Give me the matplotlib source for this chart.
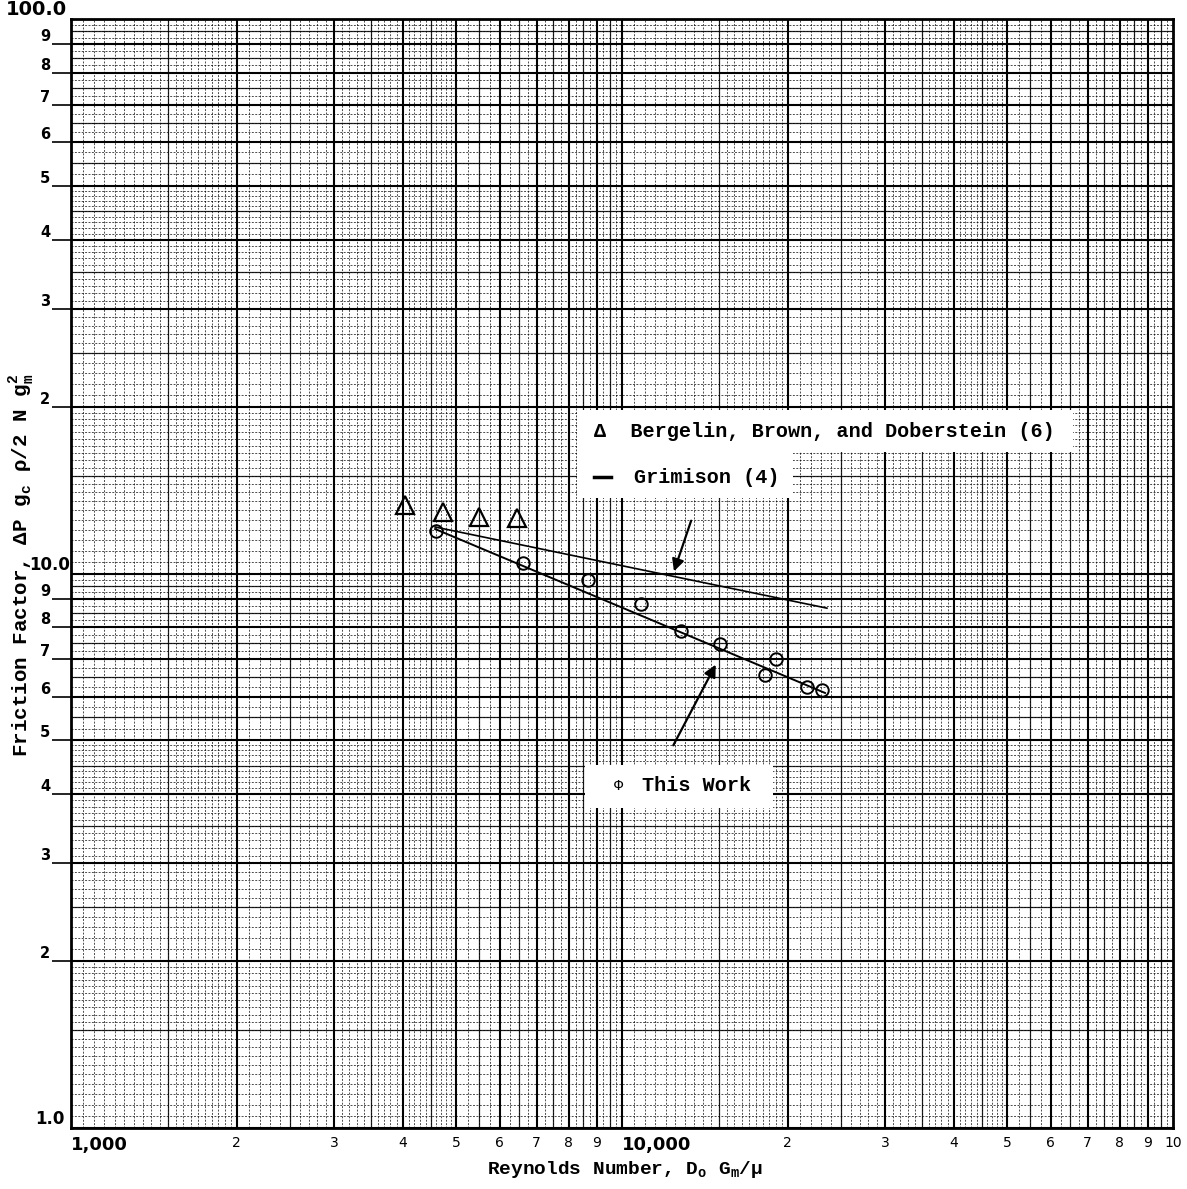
import numpy as np
import matplotlib
matplotlib.use('Agg')
import matplotlib.pyplot as plt
from matplotlib.patches import Rectangle

plt.rcParams['font.family'] = ['Liberation Mono', 'DejaVu Sans']

# Bergelin, Brown and Doberstein (6) - triangulos
re_bbd = [4040, 4730, 5500, 6450]
f_bbd = [13.3, 12.9, 12.65, 12.6]

# Este trabalho - circulos
re_tw = [4600, 6610, 8680, 10830, 12800, 15060, 19030, 18180, 21670, 23070]
f_tw = [11.93, 10.44, 9.73, 8.81, 7.88, 7.46, 7.01, 6.56, 6.24, 6.17]

# reta ajustada (este trabalho)
re_fit = [4580, 23360]
f_fit = [12.03, 6.09]

# Grimison (4)
re_grim = [4580, 23550]
f_grim = [12.13, 8.66]

xticks = [1000, 2000, 3000, 4000, 5000, 6000, 7000, 8000, 9000, 10000,
          20000, 30000, 40000, 50000, 60000, 70000, 80000, 90000, 100000]
xlabels = ['1,000', '2', '3', '4', '5', '6', '7', '8', '9', '10,000',
           '2', '3', '4', '5', '6', '7', '8', '9', '10']
yticks = [2, 3, 4, 5, 6, 7, 8, 9, 20, 30, 40, 50, 60, 70, 80, 90]
ylabels = ['2', '3', '4', '5', '6', '7', '8', '9',
           '2', '3', '4', '5', '6', '7', '8', '9']
ydecadas = [1, 10, 100]
ydecadas_lab = ['1.0', '10.0', '100.0']

fig = plt.figure(figsize=(11.87, 11.89), dpi=100)
ax = fig.add_axes([0.0598, 0.0513, 0.9284, 0.9327])
ax.set_xscale('log')
ax.set_yscale('log')
ax.set_xlim(1000, 100000)
ax.set_ylim(1, 100)

# papel log-log
def linhas_papel(decadas):
    maj, meio, fino = [], [], []
    for d in decadas:
        for k in range(1, 10):
            maj.append(d * k)
            meio.append(d * (k + 0.5))
        for v in np.arange(1.0, 2.0, 0.05):
            fino.append(d * v)
        for v in np.arange(2.0, 5.0, 0.1):
            fino.append(d * v)
        for v in np.arange(5.0, 10.0, 0.25):
            fino.append(d * v)
    return maj, meio, fino

mx, hx, fx = linhas_papel([1000, 10000])
my, hy, fy = linhas_papel([1, 10])
ax.vlines(fx, 1, 100, colors='k', lw=0.7, linestyles=(0, (2, 1.5)), alpha=0.7, zorder=0)
ax.hlines(fy, 1000, 100000, colors='k', lw=0.7, linestyles=(0, (2, 1.5)), alpha=0.7, zorder=0)
ax.vlines(hx, 1, 100, colors='k', lw=0.9, alpha=0.85, zorder=0)
ax.hlines(hy, 1000, 100000, colors='k', lw=0.9, alpha=0.85, zorder=0)
ax.vlines(mx, 1, 100, colors='k', lw=1.5, zorder=0)
ax.hlines(my, 1000, 100000, colors='k', lw=1.5, zorder=0)

# caixas brancas da legenda
ax.add_patch(Rectangle((0.459, 0.6096), 0.450, 0.0378, transform=ax.transAxes,
                       facecolor='white', edgecolor='none', zorder=1))
ax.add_patch(Rectangle((0.459, 0.5681), 0.196, 0.0425, transform=ax.transAxes,
                       facecolor='white', edgecolor='none', zorder=1))
ax.add_patch(Rectangle((0.466, 0.2885), 0.171, 0.0388, transform=ax.transAxes,
                       facecolor='white', edgecolor='none', zorder=1))
ax.text(0.475, 0.6285, 'Δ  Bergelin, Brown, and Doberstein (6)', transform=ax.transAxes,
        fontsize=14.5, fontweight='bold', va='center', ha='left', zorder=2)
ax.plot([0.475, 0.490], [0.587, 0.587], transform=ax.transAxes, color='k', lw=2.5, zorder=2)
ax.text(0.511, 0.587, 'Grimison (4)', transform=ax.transAxes,
        fontsize=14.5, fontweight='bold', va='center', ha='left', zorder=2)
ax.text(0.493, 0.3084, 'Φ', transform=ax.transAxes, fontsize=11, va='center', ha='left', zorder=2)
ax.text(0.518, 0.3084, 'This Work', transform=ax.transAxes, fontsize=14.5, fontweight='bold',
        va='center', ha='left', zorder=2)

ax.plot(re_grim, f_grim, color='k', lw=1.2, zorder=3)
ax.plot(re_fit, f_fit, color='k', lw=1.4, zorder=3)
ax.plot(re_bbd, f_bbd, linestyle='none', marker='^', ms=13, mfc='none', mec='k', mew=1.6, zorder=4)
ax.plot(re_tw, f_tw, linestyle='none', marker='o', ms=9, mfc='none', mec='k', mew=1.4, zorder=4)

# setas
ax.annotate('', xy=(12380, 9.98), xytext=(13400, 12.59),
            arrowprops=dict(arrowstyle='-|>', color='k', lw=1.6, mutation_scale=18), zorder=5)
ax.annotate('', xy=(14875, 6.92), xytext=(12325, 4.85),
            arrowprops=dict(arrowstyle='-|>', color='k', lw=1.6, mutation_scale=18), zorder=5)

ax.set_xticks(xticks)
ax.set_xticklabels(xlabels)
ax.set_yticks(yticks)
ax.set_yticklabels(ylabels)
ax.minorticks_off()
ax.tick_params(axis='x', length=0, pad=6)
ax.tick_params(axis='y', length=14, width=1.2, pad=1)
for i, lab in enumerate(ax.get_xticklabels()):
    lab.set_fontfamily('DejaVu Sans')
    if xlabels[i] in ('1,000', '10,000'):
        lab.set_fontsize(13)
        lab.set_fontweight('bold')
        lab.set_ha('left')
    else:
        lab.set_fontsize(10)
for lab in ax.get_yticklabels():
    lab.set_fontfamily('DejaVu Sans')
    lab.set_fontweight('bold')
    lab.set_va('bottom')
    lab.set_fontsize(10.5)

# rotulos das decadas no eixo y
pos_dec = [(-0.006, 1.0, 12), (-0.001, 10.0, 12), (-0.004, 100.0, 14)]
for (dx, yv, fs), txt in zip(pos_dec, ydecadas_lab):
    ax.text(dx, yv, txt, transform=ax.get_yaxis_transform(), ha='right', va='bottom',
            fontsize=fs, fontweight='bold', family='DejaVu Sans')

for s in ax.spines.values():
    s.set_linewidth(2)

ax.set_xlabel('Reynolds Number, D$_\\mathregular{o}$ G$_\\mathregular{m}$/μ', fontsize=14,
              fontweight='bold')
ax.xaxis.set_label_coords(0.503, -0.028)
ax.set_ylabel('Friction Factor, ΔP g$_\\mathregular{c}$ ρ/2 N g$_\\mathregular{m}^\\mathregular{2}$',
              fontsize=15, fontweight='bold')
ax.yaxis.set_label_coords(-0.031, 0.507)

fig.savefig('out.png', dpi=100)
